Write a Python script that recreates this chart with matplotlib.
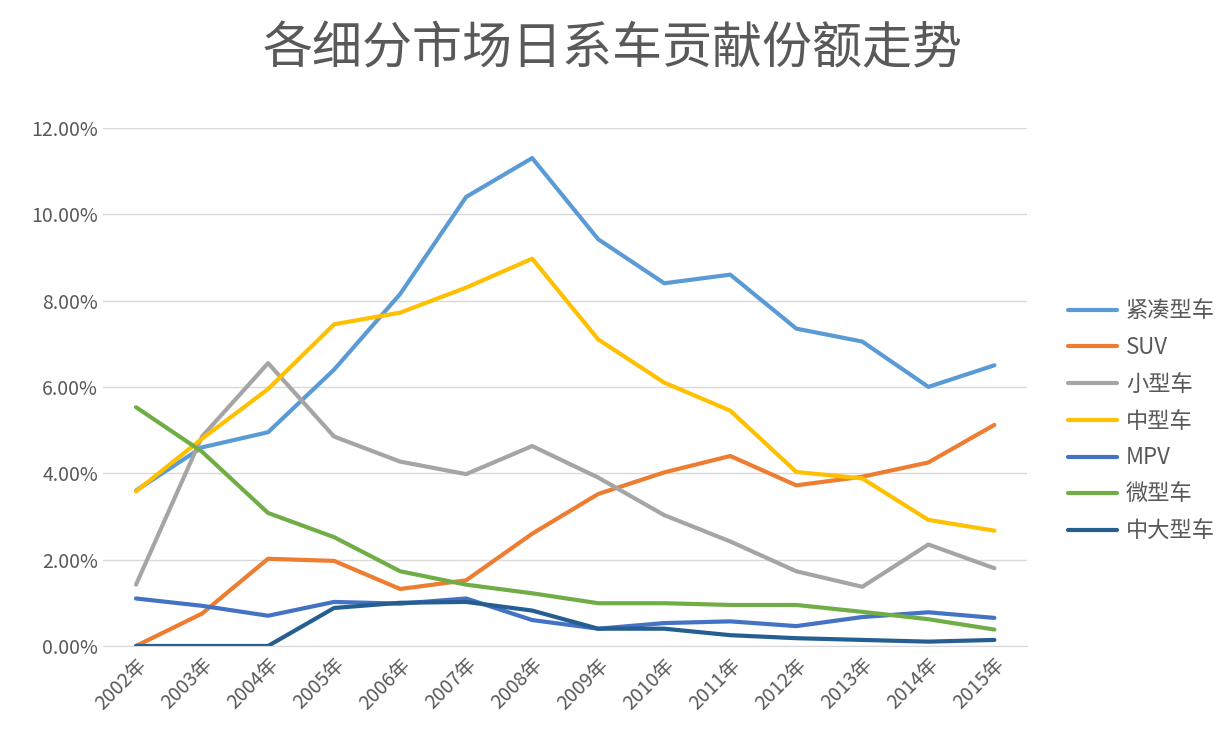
import matplotlib
matplotlib.use("Agg")
import matplotlib.pyplot as plt
from matplotlib.ticker import FuncFormatter

plt.rcParams['font.family'] = ['Noto Sans CJK SC']

years = [f"{y}年" for y in range(2002, 2016)]
compact = [3.6, 4.6, 4.95, 6.4, 8.15, 10.4, 11.3, 9.42, 8.4, 8.6, 7.35, 7.05, 6.0, 6.5]
suv = [0, 0.75, 2.02, 1.97, 1.32, 1.52, 2.6, 3.52, 4.02, 4.4, 3.72, 3.92, 4.25, 5.12]
small = [1.42, 4.85, 6.55, 4.85, 4.27, 3.98, 4.63, 3.9, 3.03, 2.42, 1.73, 1.37, 2.35, 1.8]
mid = [3.58, 4.8, 5.95, 7.45, 7.72, 8.3, 8.97, 7.1, 6.1, 5.45, 4.03, 3.88, 2.92, 2.67]
mpv = [1.1, 0.93, 0.7, 1.02, 0.98, 1.1, 0.6, 0.4, 0.53, 0.57, 0.46, 0.67, 0.78, 0.65]
mini = [5.53, 4.5, 3.08, 2.52, 1.73, 1.42, 1.22, 0.99, 0.99, 0.95, 0.95, 0.79, 0.62, 0.38]
large = [0, 0, 0, 0.88, 1.0, 1.02, 0.82, 0.4, 0.4, 0.25, 0.18, 0.14, 0.1, 0.14]

series = [("紧凑型车", compact, "#5B9BD5"), ("SUV", suv, "#ED7D31"),
          ("小型车", small, "#A5A5A5"), ("中型车", mid, "#FFC000"),
          ("MPV", mpv, "#4472C4"), ("微型车", mini, "#70AD47"),
          ("中大型车", large, "#255E91")]

fig = plt.figure(figsize=(12.26, 7.52), dpi=100)
ax = fig.add_axes([0.084, 0.141, 0.754, 0.689])
x = range(len(years))
for name, vals, c in series:
    ax.plot(x, vals, color=c, lw=3, label=name, solid_capstyle='round')
ax.set_xlim(-0.5, len(years) - 0.5)
ax.set_ylim(0, 12)
ax.set_yticks([0, 2, 4, 6, 8, 10, 12])
ax.yaxis.set_major_formatter(FuncFormatter(lambda v, p: f"{v:.2f}%"))
ax.set_xticks(list(x))
ax.set_xticklabels(years, rotation=45, ha='right', rotation_mode='anchor')
ax.grid(axis='y', color='#D9D9D9', lw=1)
ax.set_axisbelow(True)
for s in ['top', 'right', 'left']:
    ax.spines[s].set_visible(False)
ax.spines['bottom'].set_color('#D9D9D9')
ax.tick_params(axis='both', length=0, labelsize=14, labelcolor='#595959')
ax.tick_params(axis='x', pad=6)
fig.text(0.5, 0.935, "各细分市场日系车贡献份额走势", fontsize=36, color='#595959',
         ha='center', va='center')
leg = fig.legend(loc='center left', bbox_to_anchor=(0.855, 0.44), frameon=False,
                 fontsize=16, handlelength=2.2, labelspacing=0.62, handletextpad=0.4)
for t in leg.get_texts():
    t.set_color('#595959')
fig.savefig("out.png", dpi=100)
